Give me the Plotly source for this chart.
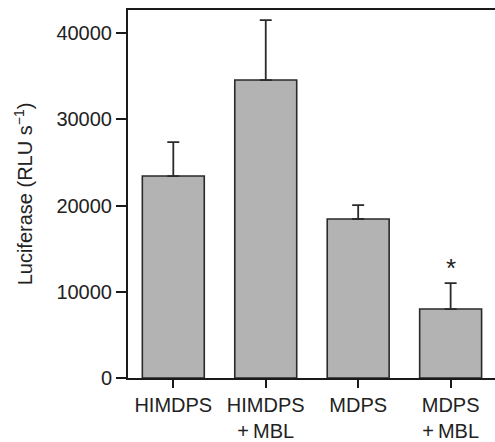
import plotly.graph_objects as go

categories = ["HIMDPS", "HIMDPS<br>+\u2009MBL", "MDPS", "MDPS<br>+\u2009MBL"]
means = [23430, 34570, 18450, 8000]
errors_up = [3950, 6960, 1620, 3020]
errors_down = [0, 0, 0, 0]
y_ticks = [0, 10000, 20000, 30000, 40000]
star_index = 3

FONT = "Liberation Sans, Arial, Helvetica, sans-serif"
INK = "#222222"

fig = go.Figure()
fig.add_trace(go.Bar(
    x=list(range(len(categories))),
    y=means,
    width=0.67,
    marker=dict(color="#b3b3b3", line=dict(color="#2a2a2a", width=1.6)),
    error_y=dict(type="data", symmetric=False, array=errors_up,
                 arrayminus=errors_down, color="#2a2a2a", thickness=1.8, width=6),
    showlegend=False,
))

fig.add_annotation(
    x=star_index, y=means[star_index] + errors_up[star_index],
    text="*", showarrow=False, yanchor="bottom", yshift=-2,
    font=dict(family=FONT, size=26, color=INK),
)

fig.update_layout(
    width=495, height=442,
    margin=dict(l=128, r=0, t=10, b=64),
    paper_bgcolor="white", plot_bgcolor="white",
    font=dict(family=FONT, size=20, color=INK),
    bargap=0.33,
)
fig.update_xaxes(
    range=[-0.49, 3.48], automargin=False,
    tickmode="array", tickvals=list(range(len(categories))), ticktext=categories,
    showline=True, linecolor="#1a1a1a", linewidth=2, mirror=True,
    ticks="outside", ticklen=8, tickwidth=1.5, tickcolor="#1a1a1a",
    showgrid=False, zeroline=False,
    tickfont=dict(size=20),
)
fig.update_yaxes(
    range=[0, 42700], automargin=False,
    tickmode="array", tickvals=y_ticks, ticktext=[str(v) for v in y_ticks],
    showline=True, linecolor="#1a1a1a", linewidth=2,
    ticks="outside", ticklen=10, tickwidth=1.5, tickcolor="#1a1a1a",
    showgrid=False, zeroline=False,
    tickfont=dict(size=20),
    title=dict(text="Luciferase (RLU s<sup>\u22121</sup>)", font=dict(size=20), standoff=18),
)

fig.write_html("out.html")
